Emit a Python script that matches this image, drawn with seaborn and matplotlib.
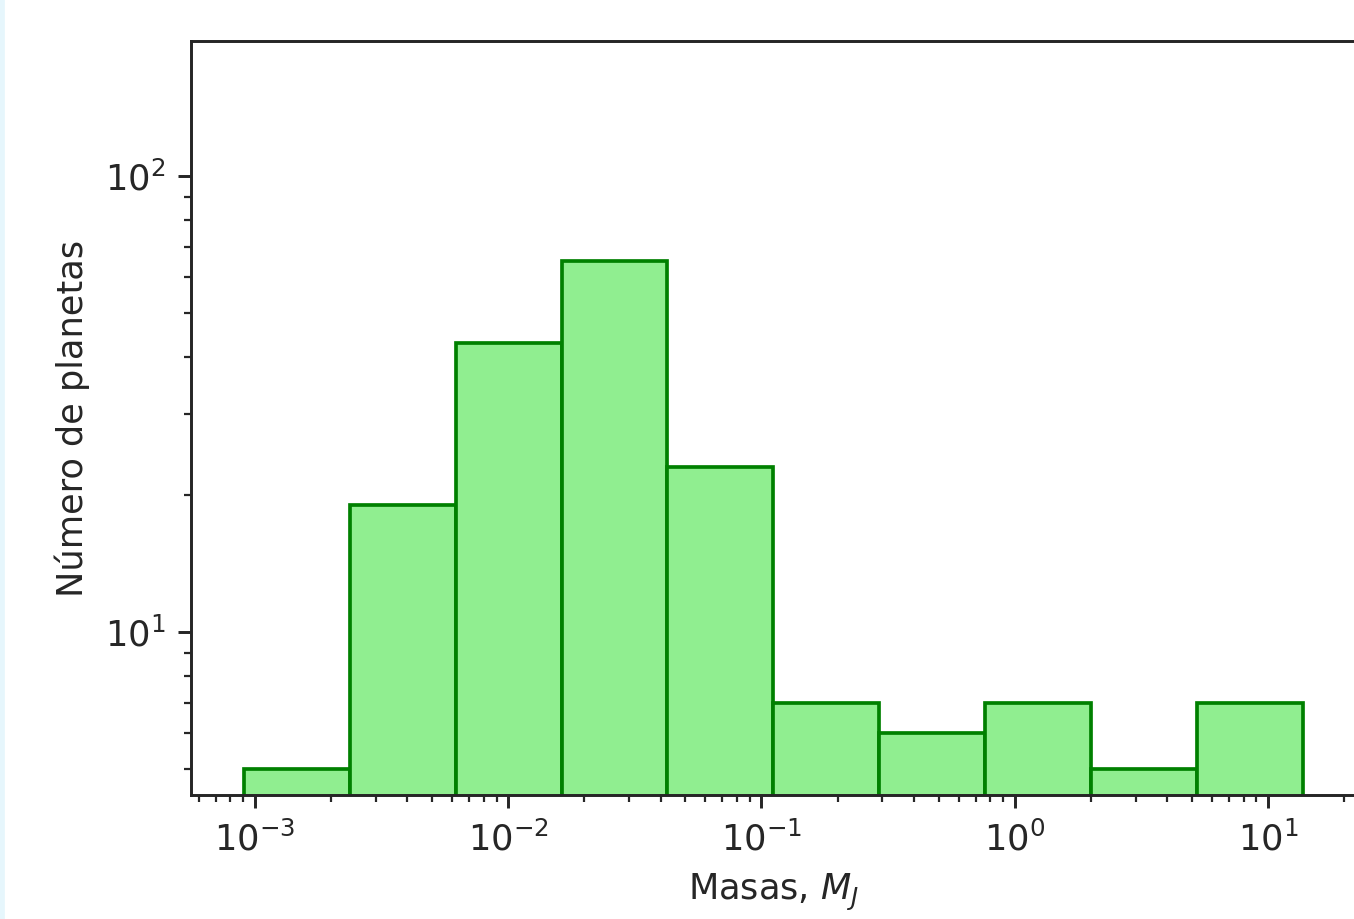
"""Histograma log-log de masas planetarias."""
import numpy as np
import pandas as pd
import matplotlib
matplotlib.use('Agg')
import matplotlib.pyplot as plt
from matplotlib.patches import Rectangle
import seaborn as sns

sns.set_style("ticks")
plt.rcParams.update({
    'font.family': ['DejaVu Sans'],
    'font.size': 10,
    'axes.linewidth': 0.8,
    'axes.edgecolor': '#262626',
    'xtick.major.width': 0.8, 'ytick.major.width': 0.8,
    'xtick.minor.width': 0.6, 'ytick.minor.width': 0.6,
    'xtick.major.size': 3.5, 'ytick.major.size': 3.5,
    'xtick.minor.size': 2, 'ytick.minor.size': 2,
    'xtick.labelsize': 9.5, 'ytick.labelsize': 9.5,
    'axes.labelsize': 9.5,
})

# --- data ---
# bin edges in log10(M_J)
log_edges = [-3.043, -2.625, -2.207, -1.789, -1.371, -0.953,
             -0.535, -0.117, 0.301, 0.719, 1.137]
counts = [5, 19, 43, 65, 23, 7, 6, 7, 5, 7]

edges = 10 ** np.array(log_edges)
centers = np.sqrt(edges[:-1] * edges[1:])
df = pd.DataFrame({'masa': centers, 'n': counts})

DPI = 266
fig = plt.figure(figsize=(1354 / DPI, 919 / DPI), dpi=DPI)
ax = fig.add_axes([191 / 1354, 1 - 795 / 919, (1357 - 191) / 1354, (795 - 41) / 919])

sns.histplot(data=df, x='masa', weights='n', bins=log_edges,
             log_scale=True, color='lightgreen', edgecolor='green',
             linewidth=1.0, alpha=1, ax=ax)
ax.set_yscale('log', nonpositive='clip')

ax.set_ylim(4.39, 197.7)
ax.set_xlim(10 ** -3.252, 10 ** 1.351)
ax.set_xlabel('Masas, $M_J$')
ax.set_ylabel('Número de planetas')

# light blue strip on the left edge of the page
fig.patches.append(Rectangle((0, 0), 3 / 1354, 1, transform=fig.transFigure,
                             color='#e6f6fc', zorder=0))

fig.savefig('out.png', dpi=DPI)
